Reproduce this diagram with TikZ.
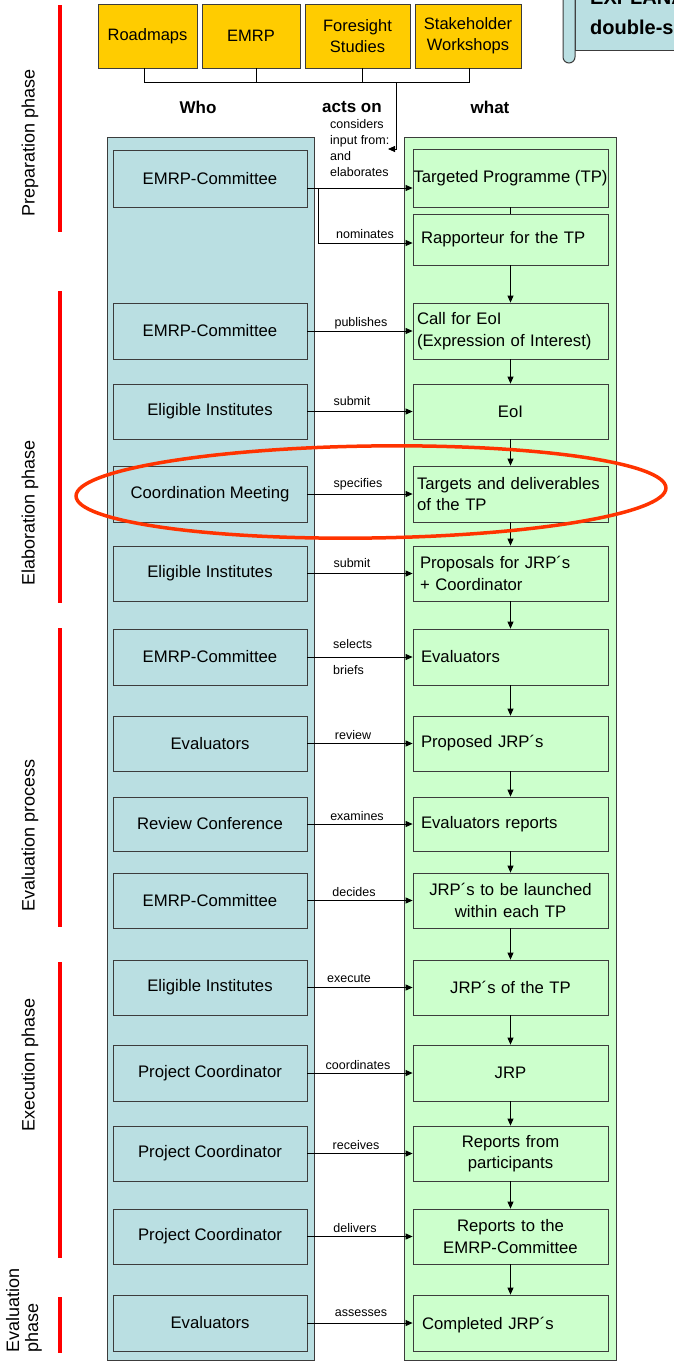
\documentclass[tikz,border=0pt]{standalone}
\usepackage{fontspec}
\setmainfont{Liberation Sans}
\usetikzlibrary{arrows.meta}
\definecolor{leftc}{RGB}{186,223,226}
\definecolor{rightc}{RGB}{204,255,204}
\definecolor{gold}{RGB}{255,204,0}
\definecolor{ovalc}{RGB}{255,51,0}
\definecolor{edgec}{RGB}{60,60,60}
\hyphenpenalty=10000
\begin{document}
\begin{tikzpicture}[x=1pt,y=-1pt,
  box/.style={draw=edgec, line width=0.8pt, inner sep=0pt, font=\fontsize{16.7}{21.5}\selectfont},
  lbox/.style={box, fill=leftc, minimum width=194pt},
  rbox/.style={box, fill=rightc, minimum width=195pt},
  rboxl/.style={rbox, align=left, text width=187pt, inner xsep=4pt},
  rboxc/.style={rbox, align=center, text width=181pt, inner xsep=7pt},
  gbox/.style={draw=edgec, line width=0.8pt, fill=gold, inner sep=0pt, minimum height=64pt, align=center, font=\fontsize{16.5}{21}\selectfont},
  lab/.style={inner sep=0pt, font=\fontsize{12.5}{16}\selectfont},
  head/.style={inner sep=0pt, font=\bfseries\fontsize{17}{20}\selectfont},
  phase/.style={inner sep=0pt, rotate=90, align=left, font=\fontsize{18}{19}\selectfont},
  redbar/.style={draw=red, line width=4pt},
  conn/.style={draw=black, line width=0.8pt, -{Triangle[length=7pt,width=6pt]}},
  plain/.style={draw=black, line width=0.8pt},
  col/.style={draw=edgec, line width=0.8pt}]
\useasboundingbox (0,0) rectangle (674,1366);
\clip (0,0) rectangle (674,1366);

% phase bars and labels
\draw[redbar] (60,5) -- (60,232);
\draw[redbar] (60,291) -- (60,603);
\draw[redbar] (60,628) -- (60,927);
\draw[redbar] (60,962) -- (60,1258);
\draw[redbar] (60,1297) -- (60,1353);
\node[phase] (p1) at (30,143) {Preparation phase};
\node[phase] (p2) at (30,513) {Elaboration phase};
\node[phase] (p3) at (30,835) {Evaluation process};
\node[phase] (p4) at (30,1065) {Execution phase};
\node[phase, anchor=west] (p5) at (24,1353) {Evaluation\\phase};

% callout (top right)
\draw[draw=edgec, fill=leftc, line width=1pt] (575,-10) rectangle (700,50);
\draw[draw=edgec, fill=leftc, line width=1pt, rounded corners=6pt] (563,-10) -- (563,63) -- (575,63) -- (575,-10);
\node[inner sep=0pt, anchor=base west, font=\bfseries\fontsize{20}{22}\selectfont] (ct) at (590,4) {EXPLANATION};
\node[inner sep=0pt, anchor=base west, font=\bfseries\fontsize{20}{22}\selectfont] (cd) at (590,34) {double-sided};

% top input boxes
\node[gbox, minimum width=99pt] (rm) at (147.5,36) {Roadmaps};
\node[gbox, minimum width=98pt] (em) at (251,36) {EMRP};
\node[gbox, minimum width=105pt] (fs) at (357.5,36) {Foresight\\Studies};
\node[gbox, minimum width=106pt] (sw) at (468,36) {Stakeholder\\Workshops};
\coordinate (bus) at (396,82);
\coordinate (inp) at (388,149);
\draw[plain] (rm.south -| 144,0) -- (144,82) -- (469,82) -- (sw.south -| 469,0);
\draw[plain] (em.south -| 256,0) -- (256,82);
\draw[plain] (fs.south -| 362,0) -- (362,82);
\draw[conn] (bus) -- (396,149) -- (inp);

% headers
\node[head] (hw) at (198,107) {Who};
\node[head] (ha) at (352,107) {acts on};
\node[head] (ht) at (490,107) {what};

% columns
\draw[col, fill=leftc] (107,137) rectangle (314,1360);
\draw[col, fill=rightc] (404,137) rectangle (616,1360);

% left boxes
\node[lbox, minimum height=57pt] (l1) at (210,178.5) {EMRP-Committee};
\node[lbox, minimum height=56pt] (l2) at (210,331) {EMRP-Committee};
\node[lbox, minimum height=55pt] (l3) at (210,411.5) {Eligible Institutes};
\node[lbox, minimum height=56pt] (l4) at (210,494) {Coordination Meeting};
\node[lbox, minimum height=55pt] (l5) at (210,573.5) {Eligible Institutes};
\node[lbox, minimum height=56pt] (l6) at (210,657) {EMRP-Committee};
\node[lbox, minimum height=55pt] (l7) at (210,743.5) {Evaluators};
\node[lbox, minimum height=54pt] (l8) at (210,824) {Review Conference};
\node[lbox, minimum height=55pt] (l9) at (210,900.5) {EMRP-Committee};
\node[lbox, minimum height=55pt] (l10) at (210,987.5) {Eligible Institutes};
\node[lbox, minimum height=56pt] (l11) at (210,1073) {Project Coordinator};
\node[lbox, minimum height=55pt] (l12) at (210,1153.5) {Project Coordinator};
\node[lbox, minimum height=55pt] (l13) at (210,1236.5) {Project Coordinator};
\node[lbox, minimum height=56pt] (l14) at (210,1323) {Evaluators};

% right boxes
\node[rbox, minimum height=58pt] (tp) at (510.5,178) {Targeted Programme (TP)};
\node[rboxl, minimum height=51pt] (rap) at (510.5,239.5) {\hspace*{4pt}Rapporteur for the TP};
\node[rboxl, minimum height=56pt] (r2) at (510.5,331) {Call for EoI\\(Expression of Interest)};
\node[rboxc, minimum height=55pt] (r3) at (510.5,411.5) {EoI};
\node[rboxl, minimum height=56pt] (r4) at (510.5,494) {Targets and deliverables\\of the TP};
\node[rboxl, minimum height=55pt] (r5) at (510.5,573.5) {\hspace*{3pt}Proposals for JRP´s\\\hspace*{3pt}+ Coordinator};
\node[rboxl, minimum height=56pt] (r6) at (510.5,657) {\hspace*{4pt}Evaluators};
\node[rboxl, minimum height=55pt] (r7) at (510.5,743.5) {\hspace*{4pt}Proposed JRP´s};
\node[rboxl, minimum height=54pt] (r8) at (510.5,824) {\hspace*{4pt}Evaluators reports};
\node[rboxc, minimum height=55pt] (r9) at (510.5,900.5) {JRP´s to be launched\\within each TP};
\node[rboxc, minimum height=55pt] (r10) at (510.5,987.5) {JRP´s of the TP};
\node[rboxc, minimum height=56pt] (r11) at (510.5,1073) {JRP};
\node[rboxc, minimum height=55pt] (r12) at (510.5,1153.5) {Reports from\\participants};
\node[rboxc, minimum height=55pt] (r13) at (510.5,1236.5) {Reports to the\\EMRP-Committee};
\node[rboxl, minimum height=56pt, text depth=-6pt] (r14) at (510.5,1323) {\hspace*{5pt}Completed JRP´s};

% vertical connectors in right column
\draw[plain] (tp.south) -- (rap.north);
\draw[conn] (rap.south) -- (r2.north);
\draw[conn] (r2.south) -- (r3.north);
\draw[conn] (r3.south) -- (r4.north);
\draw[conn] (r4.south) -- (r5.north);
\draw[conn] (r5.south) -- (r6.north);
\draw[conn] (r6.south) -- (r7.north);
\draw[conn] (r7.south) -- (r8.north);
\draw[conn] (r8.south) -- (r9.north);
\draw[conn] (r9.south) -- (r10.north);
\draw[conn] (r10.south) -- (r11.north);
\draw[conn] (r11.south) -- (r12.north);
\draw[conn] (r12.south) -- (r13.north);
\draw[conn] (r13.south) -- (r14.north);

% horizontal connectors
\coordinate (br) at (318,188);
\draw[conn] (l1.east |- br) -- (tp.west |- br);
\draw[conn] (br) -- (318,243) -- (rap.west |- 0,243);
\draw[conn] (l2) -- (r2);
\draw[conn] (l3) -- (r3);
\draw[conn] (l4) -- (r4);
\draw[conn] (l5) -- (r5);
\draw[conn] (l6) -- (r6);
\draw[conn] (l7) -- (r7);
\draw[conn] (l8) -- (r8);
\draw[conn] (l9) -- (r9);
\draw[conn] (l10) -- (r10);
\draw[conn] (l11) -- (r11);
\draw[conn] (l12) -- (r12);
\draw[conn] (l13) -- (r13);
\draw[conn] (l14) -- (r14);

% connector labels
\node[lab, anchor=north west, align=left, font=\fontsize{12.5}{16}\selectfont] (a1) at (330,119) {considers\\input from:\\and\\elaborates};
\node[lab] (a1b) at (365,234) {nominates};
\node[lab] (a2) at (361,323) {publishes};
\node[lab] (a3) at (352,401) {submit};
\node[lab] (a4) at (358,484) {specifies};
\node[lab] (a5) at (352,563) {submit};
\node[lab, anchor=west] (a6) at (333,644) {selects};
\node[lab, anchor=west] (a6b) at (333,670) {briefs};
\node[lab] (a7) at (353,735) {review};
\node[lab] (a8) at (357,816) {examines};
\node[lab] (a9) at (354,892) {decides};
\node[lab] (a10) at (349,979) {execute};
\node[lab] (a11) at (358,1065) {coordinates};
\node[lab] (a12) at (356,1145) {receives};
\node[lab] (a13) at (355,1228) {delivers};
\node[lab] (a14) at (361,1313) {assesses};

% highlight ellipse
\draw[ovalc, line width=3.5pt, rotate around={0.8:(371,492)}] (371,492) ellipse [x radius=295, y radius=46];
\end{tikzpicture}
\end{document}
